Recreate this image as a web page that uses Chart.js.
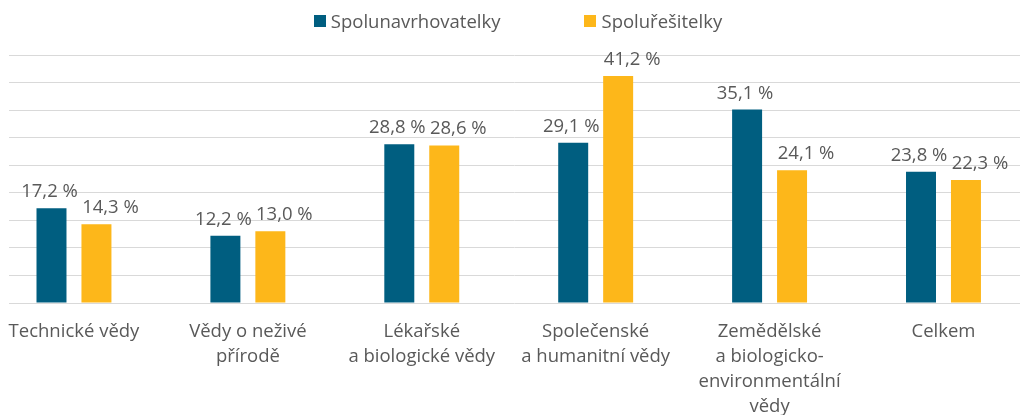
<!DOCTYPE html>
<html lang="cs">
<head>
<meta charset="utf-8">
<title>Spolunavrhovatelky a spoluřešitelky podle oboru</title>
<script src="https://cdn.jsdelivr.net/npm/chart.js@4.4.1/dist/chart.umd.min.js"></script>
<style>
  html, body { margin: 0; padding: 0; background: #fff; }
  #wrap { position: relative; width: 1020px; height: 415px; overflow: hidden; }
  #legend {
    position: absolute; top: 8px; left: 0; width: 1036px;
    display: flex; justify-content: center; gap: 84px;
    font-family: "Open Sans", sans-serif; font-size: 18.5px; color: #595959;
  }
  #legend .item { display: flex; align-items: center; }
  #legend .box { width: 12px; height: 12px; margin-right: 5px; }
</style>
</head>
<body>
<div id="wrap">
  <canvas id="myChart" width="1020" height="415"></canvas>
  <div id="legend"></div>
</div>
<script>
const categories = [
  ['Technické vědy'],
  ['Vědy o neživé', 'přírodě'],
  ['Lékařské', 'a biologické vědy'],
  ['Společenské', 'a humanitní vědy'],
  ['Zemědělské', 'a biologicko-', 'environmentální', 'vědy'],
  ['Celkem']
];
const spolunavrhovatelky = [17.2, 12.2, 28.8, 29.1, 35.1, 23.8];
const spoluresitelky = [14.3, 13.0, 28.6, 41.2, 24.1, 22.3];
const seriesNames = ['Spolunavrhovatelky', 'Spoluřešitelky'];

const textColor = '#595959';
const fontFamily = '"Open Sans", sans-serif';
const fontSize = 18.5;
// posun popisků vodorovně, aby se sousední nepřekrývaly
const labelShift = [-2, 14];

// popisky hodnot nad sloupci ve formátu "17,2 %"
const valueLabels = {
  id: 'valueLabels',
  afterDatasetsDraw(chart) {
    const ctx = chart.ctx;
    ctx.save();
    ctx.font = fontSize + 'px ' + fontFamily;
    ctx.fillStyle = textColor;
    ctx.textAlign = 'center';
    ctx.textBaseline = 'bottom';
    chart.data.datasets.forEach((ds, di) => {
      chart.getDatasetMeta(di).data.forEach((bar, i) => {
        const v = ds.data[i].y;
        ctx.fillText(v.toFixed(1).replace('.', ',') + ' %', bar.x + labelShift[di], bar.y - 7);
      });
    });
    ctx.restore();
  }
};

const toPoints = arr => arr.map((v, i) => ({ x: i, y: v }));

const ctx = document.getElementById('myChart').getContext('2d');
const myChart = new Chart(ctx, {
  type: 'bar',
  data: {
    datasets: [{
      label: seriesNames[0],
      data: toPoints(spolunavrhovatelky),
      backgroundColor: '#005e80'
    }, {
      label: seriesNames[1],
      data: toPoints(spoluresitelky),
      backgroundColor: '#fdb71a'
    }]
  },
  options: {
    responsive: false,
    animation: false,
    categoryPercentage: 0.517,
    barPercentage: 0.667,
    layout: { padding: { top: 55, left: 9, right: 0, bottom: 0 } },
    plugins: {
      legend: { display: false },
      tooltip: { enabled: false }
    },
    scales: {
      x: {
        type: 'linear',
        offset: false,
        min: -0.371,
        max: 5.44,
        grid: { display: false },
        border: { display: false },
        afterBuildTicks: scale => {
          scale.ticks = categories.map((c, i) => ({ value: i }));
        },
        afterFit: scale => { scale.height = 112; },
        ticks: {
          autoSkip: false,
          maxRotation: 0,
          padding: 8,
          color: textColor,
          font: { family: fontFamily, size: fontSize, lineHeight: 1.35 },
          callback: value => categories[value]
        }
      },
      y: {
        min: 0,
        max: 45,
        ticks: { display: false, stepSize: 5 },
        border: { display: false },
        grid: { color: '#d9d9d9', lineWidth: 1, drawTicks: false }
      }
    }
  },
  plugins: [valueLabels]
});

// legenda nad grafem
const legend = document.getElementById('legend');
myChart.data.datasets.forEach(ds => {
  const item = document.createElement('div');
  item.className = 'item';
  const box = document.createElement('span');
  box.className = 'box';
  box.style.background = ds.backgroundColor;
  const label = document.createElement('span');
  label.textContent = ds.label;
  item.appendChild(box);
  item.appendChild(label);
  legend.appendChild(item);
});
</script>
</body>
</html>
